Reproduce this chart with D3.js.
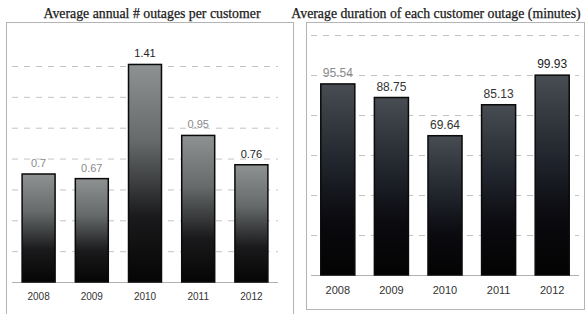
<!DOCTYPE html>
<html>
<head>
<meta charset="utf-8">
<script src="https://cdn.jsdelivr.net/npm/d3@7"></script>
<style>
  body { margin: 0; background: #fff; }
  svg { display: block; }
</style>
</head>
<body>
<svg id="chart"></svg>
<script>
const width = 588;
const height = 314;

// data
const years = ['2008', '2009', '2010', '2011', '2012'];
const outages = [0.7, 0.67, 1.41, 0.95, 0.76];
const outageLabels = ['0.7', '0.67', '1.41', '0.95', '0.76'];
const outageTicks = [0.2, 0.4, 0.6, 0.8, 1.0, 1.2, 1.4];
const durations = [95.54, 88.75, 69.64, 85.13, 99.93];
const durationLabels = ['95.54', '88.75', '69.64', '85.13', '99.93'];
const durationTicks = [20, 40, 60, 80, 100, 120];

// the scan shows some value labels faded
const outageLabelColors = ['#8a8a8a', '#8a8a8a', '#222', '#8a8a8a', '#222'];
const durationLabelColors = ['#8a8a8a', '#333', '#333', '#333', '#222'];

const svg = d3.select('#chart')
    .attr('width', width).attr('height', height);

const defs = svg.append('defs');

function addGradient(id, stops) {
    const g = defs.append('linearGradient')
        .attr('id', id)
        .attr('x1', 0).attr('y1', 0).attr('x2', 0).attr('y2', 1);
    stops.forEach(s => g.append('stop').attr('offset', s[0]).attr('stop-color', s[1]));
}

addGradient('gradLeft', [[0, '#8e9292'], [0.35, '#666a6a'], [0.7, '#1a1a1c'], [1, '#050505']]);
addGradient('gradRight', [[0, '#474d52'], [0.4, '#22262e'], [0.7, '#0b0b10'], [1, '#030303']]);

// left panel
drawPanel({
    box: [6, 22, 293, 320],
    title: 'Average annual # outages per customer',
    titleX: 152, titleY: 18,
    values: outages, labels: outageLabels, labelColors: outageLabelColors,
    ticks: outageTicks, domain: [0, 1.4],
    xRange: [12, 278], yRange: [282, 66],
    padIn: 0.38, padOut: 0.19,
    labelSize: 11, yearSize: 10, yearY: 300,
    fill: 'url(#gradLeft)'
});

// right panel
drawPanel({
    box: [306, 22, 584, 309],
    title: 'Average duration of each customer outage (minutes)',
    titleX: 436, titleY: 18,
    values: durations, labels: durationLabels, labelColors: durationLabelColors,
    ticks: durationTicks, domain: [0, 120],
    xRange: [311, 579], yRange: [275, 35],
    padIn: 0.365, padOut: 0.1825,
    labelSize: 12, yearSize: 11, yearY: 294,
    fill: 'url(#gradRight)'
});

function drawPanel(p) {
    const g = svg.append('g');

    g.append('rect')
        .attr('x', p.box[0] + 0.5).attr('y', p.box[1] + 0.5)
        .attr('width', p.box[2] - p.box[0]).attr('height', p.box[3] - p.box[1])
        .attr('fill', 'none')
        .attr('stroke', '#b4b4b4')
        .attr('stroke-width', 1);

    g.append('text')
        .attr('x', p.titleX).attr('y', p.titleY)
        .attr('text-anchor', 'middle')
        .style('font-family', '"Liberation Serif", "Times New Roman", serif')
        .style('font-size', '13.8px')
        .style('fill', '#1a1a1a')
        .style('stroke', '#1a1a1a')
        .style('stroke-width', 0.25)
        .text(p.title);

    const x = d3.scaleBand()
        .domain(years)
        .range(p.xRange)
        .paddingInner(p.padIn)
        .paddingOuter(p.padOut);

    const y = d3.scaleLinear()
        .domain(p.domain)
        .range(p.yRange);

    // dashed gridlines
    const grid = g.append('g')
        .attr('transform', `translate(${p.xRange[0]},0)`)
        .call(d3.axisLeft(y)
            .tickValues(p.ticks)
            .tickSize(-(p.xRange[1] - p.xRange[0]))
            .tickFormat(''));
    grid.select('.domain').remove();
    grid.selectAll('.tick line')
        .attr('stroke', '#c4c4c4')
        .attr('stroke-dasharray', '6,6');

    // baseline
    g.append('line')
        .attr('x1', p.xRange[0]).attr('x2', p.xRange[1])
        .attr('y1', y(0) + 0.5).attr('y2', y(0) + 0.5)
        .attr('stroke', '#b0b0b0');

    g.selectAll('.bar')
        .data(p.values)
        .enter().append('rect')
        .attr('class', 'bar')
        .attr('x', (d, i) => x(years[i]))
        .attr('y', d => y(d))
        .attr('width', x.bandwidth())
        .attr('height', d => y(0) - y(d))
        .attr('fill', p.fill)
        .attr('stroke', '#0a0a0a')
        .attr('stroke-width', 1.5);

    g.selectAll('.value')
        .data(p.values)
        .enter().append('text')
        .attr('class', 'value')
        .attr('x', (d, i) => x(years[i]) + x.bandwidth() / 2)
        .attr('y', d => y(d) - 7)
        .attr('text-anchor', 'middle')
        .style('font-family', '"Liberation Sans", Arial, sans-serif')
        .style('font-size', p.labelSize + 'px')
        .style('fill', (d, i) => p.labelColors[i])
        .text((d, i) => p.labels[i]);

    g.selectAll('.year')
        .data(years)
        .enter().append('text')
        .attr('class', 'year')
        .attr('x', d => x(d) + x.bandwidth() / 2)
        .attr('y', p.yearY)
        .attr('text-anchor', 'middle')
        .style('font-family', '"Liberation Sans", Arial, sans-serif')
        .style('font-size', p.yearSize + 'px')
        .style('fill', '#333')
        .text(d => d);
}
</script>
</body>
</html>
